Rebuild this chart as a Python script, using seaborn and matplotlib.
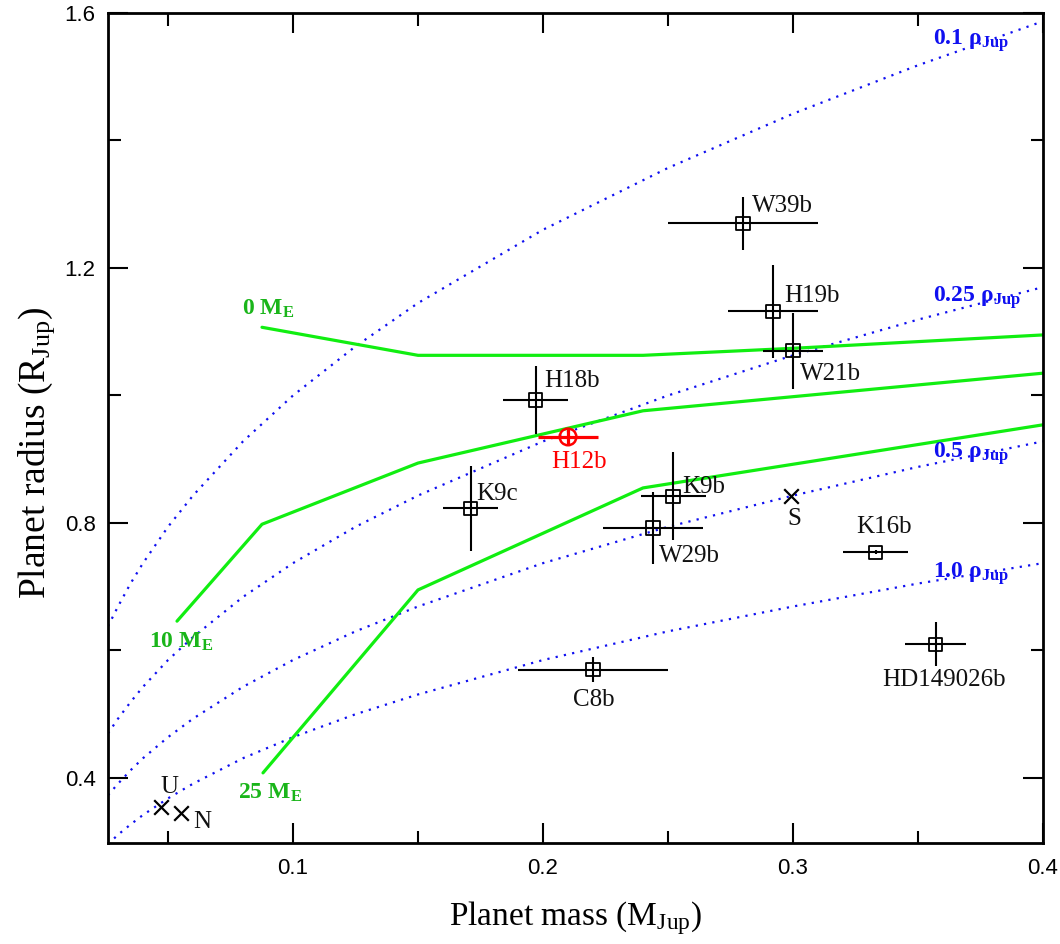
import matplotlib
matplotlib.use("Agg")
import matplotlib.pyplot as plt
from matplotlib.ticker import MultipleLocator, FormatStrFormatter
import seaborn as sns

# transiting planets: mass (M_Jup) and radius (R_Jup) with 1-sigma errors
names = ["W39b", "H19b", "W21b", "H18b", "K9c", "K9b", "W29b", "K16b", "HD149026b", "C8b"]
mass = [0.280, 0.292, 0.300, 0.197, 0.171, 0.252, 0.244, 0.333, 0.357, 0.220]
mass_err = [0.030, 0.018, 0.012, 0.013, 0.011, 0.013, 0.020, 0.013, 0.012, 0.030]
radius = [1.270, 1.132, 1.070, 0.993, 0.823, 0.842, 0.792, 0.754, 0.610, 0.570]
radius_err = [0.042, 0.073, 0.060, 0.053, 0.067, 0.069, 0.056, 0.003, 0.035, 0.020]

# HAT-P-12b (highlighted)
h12_mass = [0.210]
h12_mass_err = [0.012]
h12_radius = [0.935]
h12_radius_err = [0.012]

# solar system planets
ss_names = ["U", "N", "S"]
ss_mass = [0.047, 0.055, 0.299]
ss_radius = [0.355, 0.345, 0.843]

# model radii for different core masses
core_0_mass = [0.0876, 0.15, 0.24, 0.30, 0.40]
core_0_radius = [1.107, 1.063, 1.063, 1.074, 1.095]
core_10_mass = [0.0536, 0.0876, 0.15, 0.24, 0.40]
core_10_radius = [0.646, 0.798, 0.894, 0.976, 1.035]
core_25_mass = [0.088, 0.15, 0.24, 0.40]
core_25_radius = [0.408, 0.695, 0.855, 0.954]

# iso-density curves
rho_mass = [0.026, 0.03, 0.035, 0.04, 0.05, 0.06, 0.08, 0.1, 0.125, 0.15, 0.2, 0.25, 0.3, 0.35, 0.4]
rho_010 = [0.638, 0.669, 0.705, 0.737, 0.794, 0.843, 0.928, 1.000, 1.077, 1.145, 1.260, 1.357, 1.442, 1.518, 1.587]
rho_025 = [0.470, 0.493, 0.519, 0.543, 0.585, 0.621, 0.684, 0.737, 0.794, 0.843, 0.928, 1.000, 1.063, 1.119, 1.170]
rho_050 = [0.373, 0.391, 0.412, 0.431, 0.464, 0.493, 0.543, 0.585, 0.630, 0.669, 0.737, 0.794, 0.843, 0.888, 0.928]
rho_100 = [0.296, 0.311, 0.327, 0.342, 0.368, 0.391, 0.431, 0.464, 0.500, 0.531, 0.585, 0.630, 0.669, 0.705, 0.737]

# label offsets in pixels (right, down) from the point
offsets = {"W39b": (9, -11), "H19b": (11, -9), "W21b": (7, 29), "H18b": (9, -13),
           "K9c": (6, -8), "K9b": (9, -3), "W29b": (6, 34), "K16b": (-19, -19),
           "HD149026b": (-53, 42), "C8b": (-20, 36), "H12b": (-17, 31),
           "U": (0, -14), "N": (13, 15), "S": (-3, 29)}

GREEN = "#11ee11"
GREEN_TXT = "#1ab51a"
BLUE = "#1010f0"

sns.set_theme(style="ticks")
plt.rcParams.update({
    "font.family": ["Liberation Serif", "DejaVu Serif"],
    "mathtext.fontset": "custom",
    "mathtext.rm": "Liberation Serif",
    "mathtext.it": "Liberation Serif:italic",
    "mathtext.bf": "Liberation Serif:bold",
    "axes.linewidth": 2.0,
    "axes.edgecolor": "black",
})

fig, ax = plt.subplots(figsize=(10.6, 9.44), dpi=100)
fig.subplots_adjust(left=108 / 1060, right=1043 / 1060, top=1 - 13 / 944, bottom=1 - 843 / 944)

dots = (0, (1, 2.8))
for rv in [rho_010, rho_025, rho_050, rho_100]:
    sns.lineplot(x=rho_mass, y=rv, ax=ax, sort=False, estimator=None, color=BLUE,
                 lw=1.6, ls=dots, zorder=1)

for cm, cr in [(core_0_mass, core_0_radius), (core_10_mass, core_10_radius),
               (core_25_mass, core_25_radius)]:
    sns.lineplot(x=cm, y=cr, ax=ax, sort=False, estimator=None, color=GREEN, lw=2.3, zorder=2)

ax.errorbar(mass, radius, xerr=mass_err, yerr=radius_err, fmt="none", ecolor="black",
            elinewidth=1.5, capsize=0, zorder=3)
sns.scatterplot(x=mass, y=radius, ax=ax, marker="s", s=9.5 ** 2, zorder=4)
pts = ax.collections[-1]
pts.set_facecolor("none")
pts.set_edgecolor("black")
pts.set_linewidth(1.3)

ax.errorbar(h12_mass, h12_radius, xerr=h12_mass_err, yerr=h12_radius_err, fmt="none",
            ecolor="red", elinewidth=2.3, capsize=0, zorder=3)
sns.scatterplot(x=h12_mass, y=h12_radius, ax=ax, marker="o", s=12 ** 2, zorder=4)
pts = ax.collections[-1]
pts.set_facecolor("none")
pts.set_edgecolor("red")
pts.set_linewidth(1.8)

sns.scatterplot(x=ss_mass, y=ss_radius, ax=ax, marker="x", s=10.5 ** 2, color="black",
                linewidth=1.6, zorder=4)

def label(txt, x, y, color="#111111"):
    dx, dy = offsets[txt]
    ax.annotate(txt, (x, y), xytext=(dx * 0.72, -dy * 0.72), textcoords="offset points",
                ha="left", va="baseline", fontsize=18, color=color)

for n, x, y in zip(names, mass, radius):
    label(n, x, y)
label("H12b", h12_mass[0], h12_radius[0], color="red")
for n, x, y in zip(ss_names, ss_mass, ss_radius):
    label(n, x, y)

# model labels
for txt, x, y in [("0 M$_\\mathbf{E}$", 0.0796, 1.126), ("10 M$_\\mathbf{E}$", 0.0424, 0.604),
                  ("25 M$_\\mathbf{E}$", 0.078, 0.367)]:
    ax.text(x, y, txt, color=GREEN_TXT, fontsize=17, fontweight="bold", va="baseline", ha="left")
for txt, y in [("0.1 ρ$_\\mathbf{Jup}$", 1.550), ("0.25 ρ$_\\mathbf{Jup}$", 1.147),
               ("0.5 ρ$_\\mathbf{Jup}$", 0.902), ("1.0 ρ$_\\mathbf{Jup}$", 0.714)]:
    ax.text(0.356, y, txt, color=BLUE, fontsize=17, fontweight="bold", va="baseline", ha="left")

ax.set_xlim(0.026, 0.4)
ax.set_ylim(0.298, 1.6)
ax.xaxis.set_major_locator(MultipleLocator(0.1))
ax.xaxis.set_minor_locator(MultipleLocator(0.05))
ax.yaxis.set_major_locator(MultipleLocator(0.4))
ax.yaxis.set_minor_locator(MultipleLocator(0.2))
ax.xaxis.set_major_formatter(FormatStrFormatter("%.1f"))
ax.yaxis.set_major_formatter(FormatStrFormatter("%.1f"))
ax.tick_params(which="both", direction="in", top=True, right=True, width=1.5, color="black")
ax.tick_params(which="major", length=14.4, pad=9, labelsize=16, labelfontfamily="Liberation Sans",
               labelcolor="black")
ax.tick_params(axis="x", which="major", pad=11)
ax.tick_params(which="minor", length=9)

ax.set_xlabel("Planet mass (M$_{\\rm Jup}$)", fontsize=24, color="black", labelpad=14)
ax.set_ylabel("Planet radius (R$_{\\rm Jup}$)", fontsize=27, color="black")
ax.yaxis.set_label_coords(-0.055, 0.47)

plt.savefig("out.png", dpi=100)
